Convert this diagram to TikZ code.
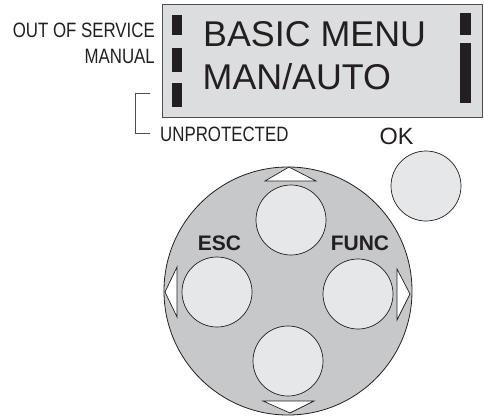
\documentclass[tikz,border=0pt]{standalone}
\usepackage{fontspec}
\setmainfont{Liberation Sans}
\newfontfamily\narrowsf[FakeStretch=0.81]{Liberation Sans}
\usetikzlibrary{positioning}
\definecolor{lcdgray}{HTML}{DCDDDE}
\definecolor{dialgray}{HTML}{C7C8CA}
\definecolor{keygray}{HTML}{E6E7E8}
\definecolor{inkblack}{HTML}{231F20}

\begin{document}
\begin{tikzpicture}[
        x=1pt, y=-1pt,
        lcd/.style={draw=inkblack!80, fill=lcdgray, line width=0.8pt, minimum width=320pt, minimum height=113pt, inner sep=0pt},
        bigtext/.style={font=\fontsize{35.8}{35.8}\selectfont, text=inkblack, inner sep=0pt},
        label/.style={font=\narrowsf\fontsize{20.8}{20.8}\selectfont, text=inkblack, inner sep=0pt},
        keylabel/.style={font=\bfseries\fontsize{21}{21}\selectfont, text=inkblack, inner sep=0pt},
        bar/.style={fill=inkblack},
        dial/.style={circle, draw=inkblack, fill=dialgray, line width=0.8pt, minimum size=248pt, inner sep=0pt},
        key/.style={circle, draw=inkblack, fill=keygray, line width=0.7pt, minimum size=70pt, inner sep=0pt},
        pointer/.style={draw=inkblack, fill=white, line width=0.7pt, line join=miter},
        bracket/.style={draw=inkblack!80, line width=0.7pt}
    ]
    \useasboundingbox (0,0) rectangle (484,415);

    % display
    \node[lcd] (display) at (322,60.5) {};
    \node[bigtext, anchor=base west] (menuline) at (203,46) {BASIC MENU};
    \node[bigtext, anchor=base west] (modeline) at (202.5,89) {MAN/AUTO};
    \fill[bar] (172,15) rectangle (182,35);
    \fill[bar] (172,48) rectangle (182,72);
    \fill[bar] (172,83) rectangle (182,107);
    \fill[bar] (460,13) rectangle (471,35);
    \fill[bar] (460,43) rectangle (471,103);

    % status labels
    \node[label, anchor=base east] (outservice) at (155,37) {OUT OF SERVICE};
    \node[label, anchor=base east] (manual) at (155,63.5) {MANUAL};
    \node[label, anchor=base west] (unprot) at (160,141) {UNPROTECTED};
    \coordinate (brtop) at (150,93);
    \coordinate (brbot) at (150,133);
    \draw[bracket] (brtop) -- ++(-15,0) |- (brbot);

    % keypad
    \node[font=\fontsize{23.5}{23.5}\selectfont, text=inkblack, inner sep=0pt, anchor=base] (oklabel) at (396.5,144) {OK};
    \node[key] (okkey) at (426,186) {};
    \node[dial] (dial) at (288,291) {};
    \node[key] (upkey) at (291,220) {};
    \node[key] (esckey) at (217,292) {};
    \node[key] (funckey) at (358,294) {};
    \node[key] (downkey) at (288,361) {};
    \node[keylabel, anchor=base] (esclabel) at (219.5,250) {ESC};
    \node[keylabel, anchor=base] (funclabel) at (360,250) {FUNC};

    \draw[pointer] (265,181) -- (316,181) -- (289,167) -- cycle;
    \draw[pointer] (263,401) -- (314,401) -- (290,413) -- cycle;
    \draw[pointer] (177,267) -- (177,317) -- (165,292) -- cycle;
    \draw[pointer] (397,269) -- (397,320) -- (410,294) -- cycle;
\end{tikzpicture}
\end{document}
